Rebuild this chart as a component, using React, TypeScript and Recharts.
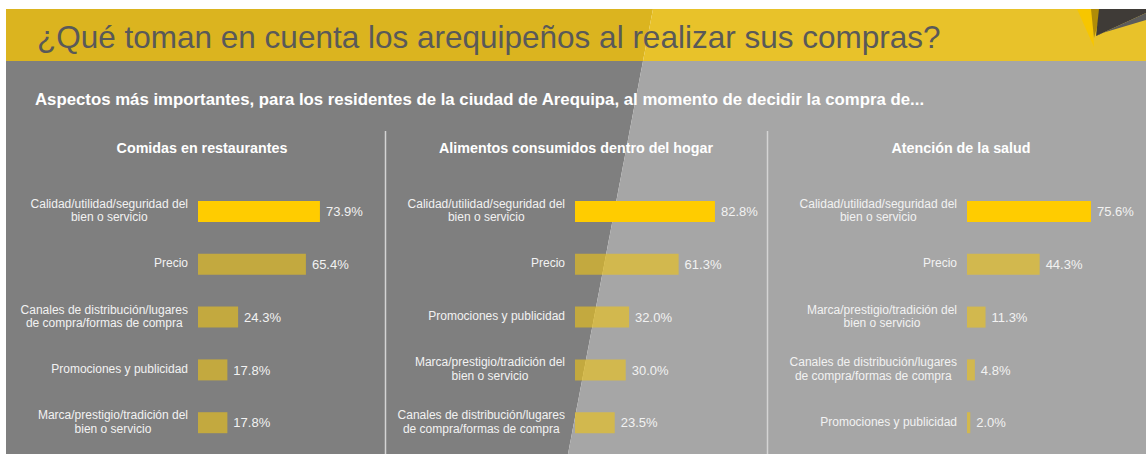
import { BarChart, Bar, XAxis, YAxis, Cell, LabelList } from 'recharts';

// categories and values per panel
const restauranteCategories = [
  'Calidad/utilidad/seguridad del\nbien o servicio',
  'Precio',
  'Canales de distribución/lugares\nde compra/formas de compra',
  'Promociones y publicidad',
  'Marca/prestigio/tradición del\nbien o servicio',
];
const restauranteValues = [73.9, 65.4, 24.3, 17.8, 17.8];

const hogarCategories = [
  'Calidad/utilidad/seguridad del\nbien o servicio',
  'Precio',
  'Promociones y publicidad',
  'Marca/prestigio/tradición del\nbien o servicio',
  'Canales de distribución/lugares\nde compra/formas de compra',
];
const hogarValues = [82.8, 61.3, 32.0, 30.0, 23.5];

const saludCategories = [
  'Calidad/utilidad/seguridad del\nbien o servicio',
  'Precio',
  'Marca/prestigio/tradición del\nbien o servicio',
  'Canales de distribución/lugares\nde compra/formas de compra',
  'Promociones y publicidad',
];
const saludValues = [75.6, 44.3, 11.3, 4.8, 2.0];

const FONT = "'Liberation Sans', Arial, sans-serif";
const TEXT = '#f2f2f2';

// multi-line labels: block right-aligned to the axis, lines centred inside it
function LabelTick(props: any) {
  const { x, y, payload } = props;
  return (
    <foreignObject x={x - 260} y={y - 20} width={260} height={40}>
      <div
        style={{
          height: 40,
          display: 'flex',
          alignItems: 'center',
          justifyContent: 'flex-end',
        }}
      >
        <div
          style={{
            textAlign: 'center',
            whiteSpace: 'pre',
            fontFamily: FONT,
            fontSize: 12,
            lineHeight: '13.5px',
            color: TEXT,
          }}
        >
          {String(payload.value)}
        </div>
      </div>
    </foreignObject>
  );
}

type PanelProps = {
  categories: string[];
  values: number[];
  left: number;
  width: number;
  axisWidth: number;
  rightMargin: number;
};

function Panel({ categories, values, left, width, axisWidth, rightMargin }: PanelProps) {
  const data = categories.map((name, i) => ({ name, value: values[i] }));
  return (
    <div style={{ position: 'absolute', left, top: 185 }}>
      <BarChart
        width={width}
        height={264}
        data={data}
        layout="vertical"
        margin={{ top: 0, right: rightMargin, bottom: 0, left: 0 }}
      >
        <XAxis type="number" domain={[0, 100]} hide />
        <YAxis
          type="category"
          dataKey="name"
          width={axisWidth}
          axisLine={false}
          tickLine={false}
          tickMargin={4}
          interval={0}
          tick={<LabelTick />}
        />
        <Bar dataKey="value" barSize={21} isAnimationActive={false}>
          {data.map((_, i) => (
            <Cell key={i} fill={i === 0 ? '#ffcc00' : 'rgba(240,196,20,0.6)'} />
          ))}
          <LabelList
            dataKey="value"
            position="right"
            offset={6}
            formatter={(v: any) => `${Number(v).toFixed(1)}%`}
            fill={TEXT}
            fontSize={13}
            fontFamily={FONT}
          />
        </Bar>
      </BarChart>
    </div>
  );
}

export default function App() {
  return (
    <div style={{ position: 'absolute', left: 0, top: 0, width: 1146, height: 454, background: '#fff', overflow: 'hidden' }}>
      <svg width={1146} height={454} style={{ position: 'absolute', left: 0, top: 0 }}>
        <polygon points="6,9 653,9 643,61 6,61" fill="#dbb41f" />
        <polygon points="653,9 1146,9 1146,61 643,61" fill="#e8c22a" />
        <polygon points="6,61 643,61 568,454 6,454" fill="#7f7f7f" />
        <polygon points="643,61 1146,61 1146,454 568,454" fill="#a6a6a6" />
        <polygon points="1077,9 1092,9 1094,47" fill="#f7c600" />
        <polygon points="1091,9 1102,9 1094,38" fill="#b08c08" />
        <polygon points="1099,9 1146,9 1146,13 1096,36" fill="#3f3b37" />
        <polygon points="1146,13 1146,20 1099,34 1096,36" fill="#5c5c5c" />
        <text x={37} y={48} fill="#595959" fontSize={31.5} fontFamily={FONT}>
          ¿Qué toman en cuenta los arequipeños al realizar sus compras?
        </text>
        <text x={35} y={105} fill="#ffffff" fontSize={16.8} fontWeight="bold" fontFamily={FONT}>
          Aspectos más importantes, para los residentes de la ciudad de Arequipa, al momento de decidir la compra de...
        </text>
        <line x1={385.5} y1={131} x2={385.5} y2={454} stroke="#d4d4d4" strokeWidth={1.5} />
        <line x1={767.5} y1={131} x2={767.5} y2={454} stroke="#d4d4d4" strokeWidth={1.5} />
        <text x={202} y={153} textAnchor="middle" fill="#ffffff" fontSize={14.3} fontWeight="bold" fontFamily={FONT}>
          Comidas en restaurantes
        </text>
        <text x={576} y={153} textAnchor="middle" fill="#ffffff" fontSize={14.3} fontWeight="bold" fontFamily={FONT}>
          Alimentos consumidos dentro del hogar
        </text>
        <text x={961} y={153} textAnchor="middle" fill="#ffffff" fontSize={14.3} fontWeight="bold" fontFamily={FONT}>
          Atención de la salud
        </text>
      </svg>
      <Panel categories={restauranteCategories} values={restauranteValues} left={6} width={379} axisWidth={192} rightMargin={22} />
      <Panel categories={hogarCategories} values={hogarValues} left={385} width={382} axisWidth={190} rightMargin={23} />
      <Panel categories={saludCategories} values={saludValues} left={767} width={379} axisWidth={200} rightMargin={15} />
    </div>
  );
}
